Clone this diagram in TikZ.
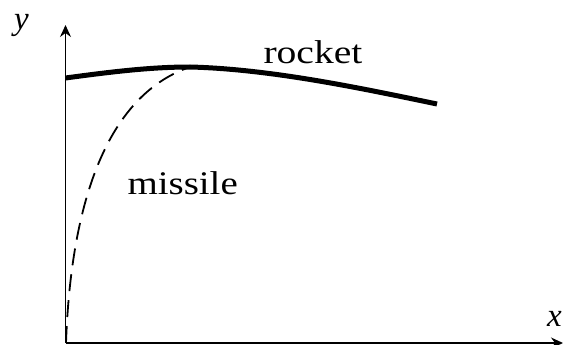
\documentclass[tikz,border=0pt]{standalone}
\usepackage{fontspec}
\setmainfont{Liberation Serif}
\usetikzlibrary{arrows.meta}
\tikzset{
  axis/.style={line width=1.3pt, -{Stealth[length=12pt,width=11pt,inset=4pt]}},
  rocketpath/.style={line width=5pt},
  missilepath/.style={line width=1.8pt, dash pattern=on 17pt off 9pt},
  lbl/.style={font=\fontsize{33}{36}\selectfont, inner sep=0pt},
}
\begin{document}
\begin{tikzpicture}[x=1pt,y=-1pt]
\useasboundingbox (0,0) rectangle (571,345);
\coordinate (O) at (65.5,343);
\coordinate (ytip) at (65.5,25);
\coordinate (xtip) at (563,343);
\coordinate (r0) at (65.5,78);
\coordinate (peak) at (190,67);
\coordinate (r1) at (437,104);
\coordinate (m0) at (66,343);
\draw[axis] (O) -- (ytip);
\draw[axis] (O) -- (xtip);
\draw[rocketpath] (r0) .. controls (110,72) and (150,67) .. (peak)
  .. controls (270,69) and (360,88) .. (r1);
\draw[missilepath] (m0) .. controls (71,200) and (108,95) .. (peak);
\node[lbl, anchor=base west] (ylab) at (14,30) {\itshape y};
\node[lbl, anchor=base west] (xlab) at (547,326) {\itshape x};
\node[lbl, anchor=base west] (rocket) at (263.3,63.3) {\scalebox{1.2}[1]{rocket}};
\node[lbl, anchor=base west] (missile) at (127.3,194.3) {\scalebox{1.18}[1]{missile}};
\end{tikzpicture}
\end{document}
